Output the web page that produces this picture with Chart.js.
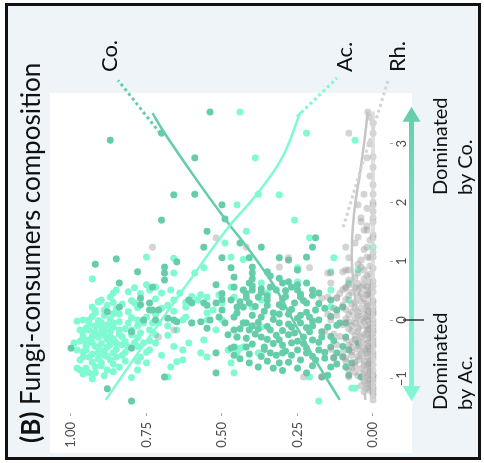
<!DOCTYPE html>
<html>
<head>
<meta charset="utf-8">
<script src="https://cdn.jsdelivr.net/npm/chart.js@4.4.0/dist/chart.umd.min.js"></script>
<style>
  html, body { margin: 0; padding: 0; background: #fff; }
  #wrap {
    position: absolute; left: 0; top: 0; width: 463px; height: 484px;
    transform-origin: 0 0; transform: translateY(463px) rotate(-90deg);
  }
</style>
</head>
<body>
<div id="wrap"><canvas id="myChart" width="463" height="484"></canvas></div>
<script>
const groups = ["Co.", "Ac.", "Rh."];

const idxTicks = [-1, 0, 1, 2, 3];
const idxTickLabels = ["\u22121", "0", "1", "2", "3"];
const propTicks = [0, 0.25, 0.5, 0.75, 1];
const propTickLabels = ["0.00", "0.25", "0.50", "0.75", "1.00"];

// [index, proportion] for each sample
const acPoints = [
  [3.54,0.44],[3.18,0.22],[3.06,0.06],[2.76,0.39],[2.14,0.38],[2.13,0.31],[1.96,0.45],[1.70,0.26],
  [1.51,0.42],[1.40,0.21],[1.31,0.49],[1.07,0.75],[1.07,0.47],[1.03,0.43],[1.05,0.66],[0.80,0.66],
  [0.80,0.59],[0.89,0.56],[0.70,0.93],[1.06,0.13],[0.82,0.14],[0.85,0.05],[0.63,0.08],[1.24,0.00],
  [0.63,0.37],[0.65,0.25],[0.89,0.25],
  [0.60,0.75],[0.51,0.74],[0.56,0.72],[0.46,0.70],[0.51,0.67],[0.34,0.66],[0.46,0.64],[0.22,0.62],
  [0.34,0.58],[0.39,0.55],[0.43,0.51],[0.29,0.50],[0.56,0.47],[0.39,0.46],[0.17,0.53],[0.00,0.55],
  [-0.05,0.60],[0.00,0.63],[-0.17,0.65],[-0.26,0.68],[-0.39,0.72],[-0.51,0.74],[-0.05,0.71],[0.05,0.75],
  [0.29,0.79],[-0.05,0.81],[-0.39,0.79],[-0.63,0.85],[-0.80,0.84],[-0.68,0.87],[-0.73,0.90],[-0.63,0.94],
  [-0.85,0.97],[-0.90,0.94],[-0.51,0.98],[-0.39,0.99],[-0.17,0.97],[0.00,0.96],[0.22,0.93],[0.34,0.90],
  [0.39,0.87],[0.51,0.85],[0.17,0.89],[-0.05,0.86],[-0.29,0.91],[-0.46,0.88],[-0.51,0.95],[-0.29,0.83],
  [-0.22,0.77],[-0.63,0.77],[-0.73,0.75],[-0.51,0.63],[-0.39,0.61],[-0.34,0.56],[-0.56,0.57],[-0.17,0.52],
  [0.00,0.50],[-0.29,0.45],[-0.05,0.43],[-0.51,0.48],[-0.56,0.45],[-0.73,0.47],[-0.97,0.68],[-0.80,0.67],
  [-0.68,0.63],
  [-0.29,0.96],[-0.17,0.94],[-0.39,0.93],[-0.17,0.89],[-0.29,0.87],[-0.39,0.85],[-0.05,0.90],[0.00,0.94],
  [-0.39,0.95],[-0.56,0.91],[-0.56,0.86],[-0.17,0.84],[-0.46,0.81],[-0.17,0.80],[0.00,0.78],[-0.17,0.74],
  [-0.05,0.73],[-0.39,0.76],[-0.63,0.96],[-0.85,0.88],[-0.90,0.92],
  [-0.10,0.92],[-0.22,0.90],[-0.33,0.88],[-0.45,0.92],[-0.60,0.89],[-0.12,0.86],[-0.42,0.83],[-0.25,0.80],
  [-0.70,0.82],[0.10,0.84],[0.12,0.92],[-0.02,0.98],[-0.55,0.82],[-0.80,0.92],[-0.95,0.89],
  [-0.82,0.98],[0.31,0.91],[0.46,0.86],[-0.71,0.65],[-0.63,0.55],[0.43,0.57],[0.12,0.55],
  [-0.90,0.46],[-0.97,0.21],[-0.56,0.38],[-0.48,0.44],[-1.16,0.06],[-1.38,0.18],[0.34,0.37],[0.46,0.35],
  [0.51,0.43],[-0.12,0.37],[-0.46,0.43],[0.22,0.40],[0.22,0.14],[0.34,0.08],[0.51,0.14],[-1.16,0.07],
  [-0.82,0.95],[-0.78,0.90],[-0.75,0.86],[-0.72,0.93],[-0.68,0.97],[-0.66,0.91],[-0.62,0.88],[-0.60,0.83],
  [-0.58,0.93],[-0.54,0.96],[-0.52,0.89],[-0.50,0.85],[-0.48,0.91],[-0.45,0.78],[-0.44,0.95],[-0.42,0.87],
  [-0.40,0.90],[-0.37,0.82],[-0.36,0.97],[-0.34,0.94],[-0.32,0.86],[-0.30,0.78],[-0.28,0.93],[-0.26,0.89],
  [-0.24,0.84],[-0.22,0.96],[-0.20,0.92],[-0.19,0.87],[-0.15,0.82],[-0.14,0.95],[-0.12,0.90],[-0.10,0.78],
  [-0.08,0.88],[-0.06,0.94],[-0.03,0.84],[-0.01,0.91],[0.02,0.87],[0.04,0.80],[0.06,0.93],[0.08,0.89],
  [0.11,0.86],[0.14,0.81],[0.16,0.92],[0.19,0.85],[0.21,0.78],[0.25,0.88],[0.27,0.83],[0.30,0.86],
  [0.33,0.80],[-0.88,0.86],[-0.92,0.96],[-0.70,0.78],[-0.55,0.75],[-0.35,0.74],[-0.25,0.72],[-0.05,0.76],
  [0.10,0.72],[0.20,0.70],[0.15,0.66],[0.05,0.62],[0.30,0.62],[0.40,0.60],[0.45,0.77],[0.48,0.81],
  [0.55,0.79],[0.36,0.72],[0.25,0.68],[-0.10,0.68],[-0.45,0.66],[-0.60,0.70],[-0.85,0.78],[-1.00,0.93],
  [-0.98,0.80]
];

const coPoints = [
  [3.54,0.54],[3.18,0.70],[3.06,0.87],[2.76,0.59],[2.13,0.66],[2.14,0.59],[1.96,0.50],[1.70,0.70],
  [1.72,0.49],[1.51,0.55],[1.24,0.56],[1.31,0.44],[1.24,0.37],[1.40,0.19],[1.24,0.20],[1.07,0.22],
  [0.90,0.69],[0.80,0.69],[0.68,0.69],[0.99,0.65],[1.06,0.50],[1.06,0.41],[0.89,0.47],[0.80,0.40],
  [0.82,0.35],[1.06,0.31],[1.02,0.28],[0.85,0.25],[0.60,0.52],[0.56,0.46],[0.63,0.41],[0.71,0.31],
  [0.65,0.28],[0.95,0.92],[1.04,0.85],[0.82,0.78],[0.63,0.84],[0.37,0.77],[0.56,0.73],[0.22,0.84],
  [0.14,0.88],[0.26,0.77],[0.17,0.74],[0.00,0.76],[-0.20,0.80],[-0.48,0.80],[-0.48,1.00],[-1.17,0.88],
  [-1.38,0.80],[-0.97,0.69],[0.03,0.68],[-0.03,0.65],[0.34,0.61],[-0.05,0.60],[-0.03,0.57],[-0.14,0.55],
  [0.29,0.52],[-0.90,0.52],
  [0.29,0.74],[0.17,0.73],[0.17,0.71],[0.00,0.72],[0.00,0.66],[0.29,0.60],[0.29,0.56],[0.00,0.54],
  [-0.05,0.49],[-0.17,0.46],[-0.48,0.47],[-0.56,0.52],[0.73,0.46],[0.17,0.50],[0.22,0.43],[0.05,0.46],
  [-0.05,0.42],
  [0.34,0.47],[0.22,0.45],[0.29,0.41],[0.39,0.38],[0.34,0.35],[0.05,0.37],[0.12,0.33],[0.22,0.30],
  [0.29,0.26],[0.51,0.25],[0.39,0.24],[0.29,0.22],[0.17,0.19],[0.00,0.18],[0.05,0.21],[-0.05,0.24],
  [-0.12,0.27],[-0.05,0.31],[-0.17,0.34],[-0.29,0.37],[-0.17,0.41],[-0.05,0.43],[-0.29,0.45],[-0.46,0.46],
  [-0.46,0.42],[-0.46,0.36],[-0.34,0.31],[-0.39,0.27],[-0.29,0.23],[-0.34,0.20],[-0.29,0.17],[-0.12,0.15],
  [-0.46,0.14],[-0.51,0.18],[-0.56,0.22],[-0.51,0.25],[-0.56,0.30],[-0.56,0.34],[-0.56,0.12],[-0.63,0.10],
  [-0.51,0.08],[-0.29,0.09],[-0.05,0.11],[0.17,0.12],[0.22,0.10],[0.34,0.14],[0.46,0.18],[0.51,0.20],
  [0.51,0.32],[0.56,0.34],[0.63,0.30],[0.63,0.22],[0.51,0.40],[0.51,0.43],[-0.73,0.41],[-0.73,0.31],
  [-0.68,0.24],[-0.68,0.19],[-0.80,0.14],[-0.80,0.09],[-0.97,0.04],[-0.05,0.09],[-0.39,0.05],[-0.73,0.07],
  [-0.97,0.17],[-0.82,0.33],[-0.94,0.15],[-0.94,0.08],[0.56,0.27],
  [-0.20,0.21],[-0.40,0.33],[-0.60,0.27],[0.10,0.28],[0.40,0.29],[-0.25,0.28],[0.08,0.24],[-0.10,0.20],
  [-0.65,0.16],[0.42,0.20],[-0.35,0.13],[0.25,0.35],[-0.15,0.38],[0.45,0.42],[-0.62,0.37],
  [-0.82,0.25],[-0.80,0.38],[-0.78,0.20],[-0.75,0.12],[-0.72,0.28],[-0.70,0.35],[-0.66,0.44],[-0.64,0.13],
  [-0.60,0.32],[-0.58,0.41],[-0.55,0.16],[-0.53,0.29],[-0.50,0.36],[-0.48,0.22],[-0.45,0.10],[-0.43,0.30],
  [-0.41,0.40],[-0.38,0.18],[-0.36,0.25],[-0.33,0.35],[-0.31,0.42],[-0.28,0.14],[-0.26,0.32],[-0.24,0.39],
  [-0.22,0.26],[-0.20,0.17],[-0.18,0.30],[-0.15,0.44],[-0.13,0.22],[-0.11,0.35],[-0.09,0.12],[-0.07,0.28],
  [-0.04,0.38],[-0.02,0.20],[0.01,0.33],[0.03,0.25],[0.06,0.14],[0.08,0.40],[0.10,0.31],[0.13,0.22],
  [0.15,0.36],[0.18,0.27],[0.20,0.16],[0.23,0.39],[0.26,0.31],[0.28,0.18],[0.31,0.44],[0.33,0.23],
  [0.36,0.30],[0.38,0.42],[0.41,0.35],[0.44,0.24],[0.47,0.37],[0.50,0.29],[0.53,0.37],[0.58,0.40],
  [0.60,0.25],[-0.86,0.30],[-0.90,0.22],[-0.62,0.20],[-0.40,0.23],[-0.10,0.40],[0.12,0.45],[0.35,0.50],
  [0.05,0.51],[-0.25,0.48],[-0.60,0.46],[0.25,0.55],[0.45,0.50],[0.70,0.40],[0.75,0.34],[0.90,0.40]
];

const rhPoints = [
  [3.54,0.017],[3.18,0.08],[3.18,0.00],[2.78,0.00],[2.76,0.02],[2.14,0.03],[2.14,0.00],[1.96,0.05],
  [1.96,0.00],[1.74,0.04],[1.74,0.00],[1.67,0.04],[1.67,0.00],[1.53,0.03],[1.53,0.02],[1.41,0.05],
  [1.40,0.00],[1.36,0.01],[1.31,0.06],[1.24,0.02],[1.24,0.09],[1.07,0.02],[1.07,0.00],[1.06,0.08],
  [1.06,0.01],[1.02,0.04],[0.85,0.03],[0.85,0.08],[0.85,0.09],[0.82,0.10],[0.80,0.14],[0.80,0.15],
  [0.63,0.14],[0.56,0.09],[0.54,0.09],[0.56,0.04],[0.39,0.15],[0.37,0.17],[0.37,0.12],
  [1.06,0.28],[0.89,0.21],[1.40,0.52],[1.24,0.73],[1.24,0.42],[0.90,0.31],[-0.29,0.71],[-0.17,0.66],
  [-0.97,0.23],[-0.97,0.17],[-1.16,0.02],[-1.36,0.00],[-1.24,0.00],[-0.94,0.00],
  [0.65,0.01],[0.60,0.03],[0.58,0.00],[0.55,0.06],[0.50,0.02],[0.48,0.00],[0.45,0.04],[0.42,0.08],
  [0.40,0.01],[0.36,0.03],[0.33,0.00],[0.30,0.06],[0.28,0.02],[0.25,0.10],[0.22,0.00],[0.20,0.04],
  [0.17,0.02],[0.14,0.07],[0.12,0.00],[0.10,0.03],[0.07,0.05],[0.05,0.01],[0.02,0.09],[0.00,0.00],
  [-0.02,0.03],[-0.05,0.06],[-0.07,0.01],[-0.10,0.04],[-0.12,0.00],[-0.15,0.08],[-0.17,0.02],[-0.20,0.05],
  [-0.22,0.00],[-0.25,0.03],[-0.28,0.11],[-0.30,0.01],[-0.33,0.06],[-0.35,0.00],[-0.38,0.04],[-0.40,0.02],
  [-0.43,0.08],[-0.45,0.00],[-0.48,0.03],[-0.50,0.05],[-0.53,0.01],[-0.55,0.00],[-0.58,0.04],[-0.60,0.07],
  [-0.63,0.02],[-0.66,0.00],[-0.68,0.05],[-0.70,0.03],[-0.73,0.01],[-0.76,0.00],[-0.78,0.06],[-0.80,0.02],
  [-0.83,0.04],[-0.86,0.00],[-0.88,0.01],[-0.90,0.03],[-0.95,0.00],[-0.98,0.02],[-1.02,0.01],[-1.06,0.00],
  [-1.10,0.02],[-1.14,0.00],[-1.20,0.01],[0.62,0.05],[0.52,0.10],[0.38,0.12],[0.08,0.12],[-0.08,0.10],
  [-0.24,0.13],[-0.42,0.12],[-0.56,0.10],[-0.70,0.09],[-0.85,0.08],[0.30,0.00],[0.10,0.00],[-0.30,0.00],
  [-0.60,0.00],[-0.95,0.05],[0.15,0.015],[-0.15,0.015],[-0.45,0.015],[-0.75,0.015],[0.45,0.015],[0.00,0.02],
  [-0.25,0.005],[-0.52,0.025],[0.55,0.005],[0.75,0.02],[0.72,0.06],[0.92,0.01],[0.95,0.05],[1.15,0.00],
  [1.20,0.03],[1.45,0.00],[1.60,0.02],[1.85,0.00],[1.90,0.02],[2.30,0.00],[2.45,0.01],[2.60,0.00],
  [3.00,0.01],[3.35,0.00],[3.45,0.01],[2.00,0.00],
  [0.90,0.04],[0.88,0.00],[0.80,0.05],[0.78,0.01],[0.70,0.03],[0.68,0.08],[0.66,0.00],[0.60,0.08],
  [0.57,0.02],[0.52,0.05],[0.47,0.07],[0.43,0.02],[0.41,0.05],[0.35,0.09],[0.32,0.04],[0.27,0.07],
  [0.24,0.02],[0.21,0.06],[0.18,0.09],[0.16,0.00],[0.13,0.05],[0.09,0.08],[0.06,0.02],[0.03,0.06],
  [0.01,0.04],[-0.03,0.08],[-0.06,0.00],[-0.09,0.07],[-0.11,0.02],[-0.14,0.05],[-0.18,0.00],[-0.19,0.07],
  [-0.23,0.02],[-0.27,0.06],[-0.29,0.04],[-0.32,0.09],[-0.34,0.02],[-0.37,0.07],[-0.41,0.00],[-0.44,0.05],
  [-0.47,0.07],[-0.49,0.01],[-0.54,0.07],[-0.57,0.02],[-0.62,0.05],[-0.65,0.09],[-0.69,0.01],[-0.72,0.06],
  [-0.77,0.03],[-0.81,0.07],[-0.84,0.01],[-0.89,0.06],[-0.93,0.02],[-0.97,0.08],[-1.00,0.00],[-1.04,0.03],
  [-1.08,0.01],[-1.12,0.04],[-1.18,0.00],[-1.22,0.03],[-1.28,0.00],[0.10,0.15],[-0.20,0.16],[-0.50,0.14],
  [0.20,0.13],[0.45,0.11],[-0.65,0.13],[0.00,0.14]
];

// smoothed trends
const coFitIdx = [-1.36, -0.56, 0, 0.56, 1.19, 1.72, 2.43, 3.18, 3.52];
const coFitVal = [0.11, 0.205, 0.265, 0.325, 0.41, 0.49, 0.59, 0.69, 0.73];
const acFitIdx = [-1.36, -0.5, 0.68, 1.57, 2.14, 2.77, 3.54];
const acFitVal = [0.885, 0.77, 0.606, 0.48, 0.385, 0.30, 0.24];
const rhFitIdx = [-1.36, -0.5, 0.3, 1.07, 1.8, 2.43, 3.0, 3.55];
const rhFitVal = [0.025, 0.04, 0.058, 0.07, 0.063, 0.045, 0.03, 0.017];
const rhBaseIdx = [-1.36, 3.55];
const rhBaseVal = [0, 0];

// dotted leaders to the labels
const coLeadIdx = [3.18, 4.08];
const coLeadVal = [0.705, 0.844];
const acLeadIdx = [3.46, 4.12];
const acLeadVal = [0.252, 0.119];
const rhLeadIdx = [1.58, 4.08];
const rhLeadVal = [0.099, -0.05];
const labelIdx = [4.22, 4.22, 4.22];
const labelVal = [0.848, 0.07, -0.106];

const arrowIdx = [-1.38, 3.63];

const CO = "#66cdaa";
const AC = "#7ffad3";
const RH = "rgba(160,160,160,0.45)";

const xy = (pts) => pts.map(([x, y]) => ({ x, y }));
const zip = (xs, ys) => xs.map((x, i) => ({ x, y: ys[i] }));

const decor = {
  id: "decor",
  beforeDraw(chart) {
    const { ctx } = chart;
    ctx.save();
    ctx.fillStyle = "#ffffff";
    ctx.fillRect(0, 0, chart.width, chart.height);
    ctx.fillStyle = "#eef4f8";
    ctx.fillRect(3, 5, 457, 476);
    ctx.fillStyle = "#ffffff";
    ctx.fillRect(10, 50, 360, 362);
    ctx.restore();
  },
  afterDraw(chart) {
    const { ctx } = chart;
    const x = chart.scales.x, y = chart.scales.y;
    ctx.save();
    ctx.strokeStyle = "#111";
    ctx.lineWidth = 3;
    ctx.strokeRect(4.5, 6.5, 454, 473);

    ctx.fillStyle = "#111";
    ctx.textAlign = "left";
    ctx.textBaseline = "alphabetic";
    ctx.font = "bold 26px Lato";
    ctx.fillText("(B)", 20, 40);
    const bw = ctx.measureText("(B)").width;
    ctx.font = "26px Lato";
    ctx.fillText(" Fungi-consumers composition", 20 + bw, 40);

    ctx.font = "22px Lato";
    groups.forEach((g, i) => {
      ctx.fillText(g, x.getPixelForValue(labelIdx[i]), y.getPixelForValue(labelVal[i]));
    });

    // double arrow
    const a0 = x.getPixelForValue(arrowIdx[0]);
    const a1 = x.getPixelForValue(arrowIdx[1]);
    const av = 411.5;
    const grad = ctx.createLinearGradient(a0, 0, a1, 0);
    grad.addColorStop(0, "#80f7d2");
    grad.addColorStop(0.4, "#7cecc8");
    grad.addColorStop(1, "#66cdaa");
    ctx.fillStyle = grad;
    ctx.fillRect(a0 + 12, av - 2.5, a1 - a0 - 24, 5);
    ctx.beginPath();
    ctx.moveTo(a1, av); ctx.lineTo(a1 - 15, av - 9); ctx.lineTo(a1 - 15, av + 9); ctx.closePath();
    ctx.moveTo(a0, av); ctx.lineTo(a0 + 15, av - 9); ctx.lineTo(a0 + 15, av + 9); ctx.closePath();
    ctx.fill();

    const z = x.getPixelForValue(0);
    ctx.strokeStyle = "#333";
    ctx.lineWidth = 1.5;
    ctx.beginPath();
    ctx.moveTo(z, 403); ctx.lineTo(z, 424);
    ctx.stroke();

    ctx.fillStyle = "#111";
    ctx.font = "20px Lato";
    ctx.fillText("Dominated", 268, 447);
    ctx.fillText("by Co.", 268, 472);
    ctx.fillText("Dominated", 53, 447);
    ctx.fillText("by Ac.", 53, 472);
    ctx.restore();
  },
};

const tickFont = { family: "Lato", size: 13 };

new Chart(document.getElementById("myChart"), {
  type: "scatter",
  data: {
    datasets: [
      { label: "Ac.", data: xy(acPoints), backgroundColor: AC, pointRadius: 3.5, borderWidth: 0, order: 4 },
      { label: "Co.", data: xy(coPoints), backgroundColor: CO, pointRadius: 3.5, borderWidth: 0, order: 3 },
      { label: "Rh.", data: xy(rhPoints), backgroundColor: RH, pointRadius: 3.5, borderWidth: 0, order: 2 },
      { data: zip(rhBaseIdx, rhBaseVal), showLine: true, pointRadius: 0, borderColor: "rgba(215,215,215,0.75)", borderWidth: 4, order: 1 },
      { data: zip(rhFitIdx, rhFitVal), showLine: true, pointRadius: 0, tension: 0.4, borderColor: "rgba(195,195,195,0.95)", borderWidth: 2.5, order: 1 },
      { data: zip(acFitIdx, acFitVal), showLine: true, pointRadius: 0, tension: 0.4, borderColor: AC, borderWidth: 2.5, order: 0 },
      { data: zip(coFitIdx, coFitVal), showLine: true, pointRadius: 0, tension: 0.4, borderColor: CO, borderWidth: 2.5, order: 0 },
      { data: zip(coLeadIdx, coLeadVal), showLine: true, pointRadius: 0, borderColor: CO, borderWidth: 3, borderDash: [3, 3], clip: false, order: 0 },
      { data: zip(acLeadIdx, acLeadVal), showLine: true, pointRadius: 0, borderColor: AC, borderWidth: 3, borderDash: [3, 3], clip: false, order: 0 },
      { data: zip(rhLeadIdx, rhLeadVal), showLine: true, pointRadius: 0, borderColor: "#d4d4d4", borderWidth: 3, borderDash: [3, 3], clip: false, order: 0 },
    ],
  },
  options: {
    responsive: false,
    animation: false,
    events: [],
    layout: { padding: { left: 0, right: 93, top: 50, bottom: 0 } },
    plugins: { legend: { display: false }, tooltip: { enabled: false } },
    scales: {
      x: {
        type: "linear",
        min: -1.583,
        max: 3.864,
        afterBuildTicks: (s) => { s.ticks = idxTicks.map((v) => ({ value: v })); },
        afterFit: (s) => { s.height = 94; },
        ticks: {
          font: tickFont, color: "#4d4d4d", padding: 1, maxRotation: 0, autoSkip: false,
          callback: (v) => idxTickLabels[idxTicks.indexOf(v)],
        },
        grid: { drawOnChartArea: false, drawTicks: true, tickLength: 3, color: "#aaaaaa" },
        border: { display: false },
      },
      y: {
        type: "linear",
        min: -0.0563,
        max: 1.0695,
        afterBuildTicks: (s) => { s.ticks = propTicks.map((v) => ({ value: v })); },
        afterFit: (s) => { s.width = 50; },
        ticks: {
          font: tickFont, color: "#4d4d4d", padding: 6, autoSkip: false,
          callback: (v) => propTickLabels[propTicks.indexOf(v)],
        },
        grid: { drawOnChartArea: false, drawTicks: true, tickLength: 3, color: "#aaaaaa" },
        border: { display: false },
      },
    },
  },
  plugins: [decor],
});
</script>
</body>
</html>
